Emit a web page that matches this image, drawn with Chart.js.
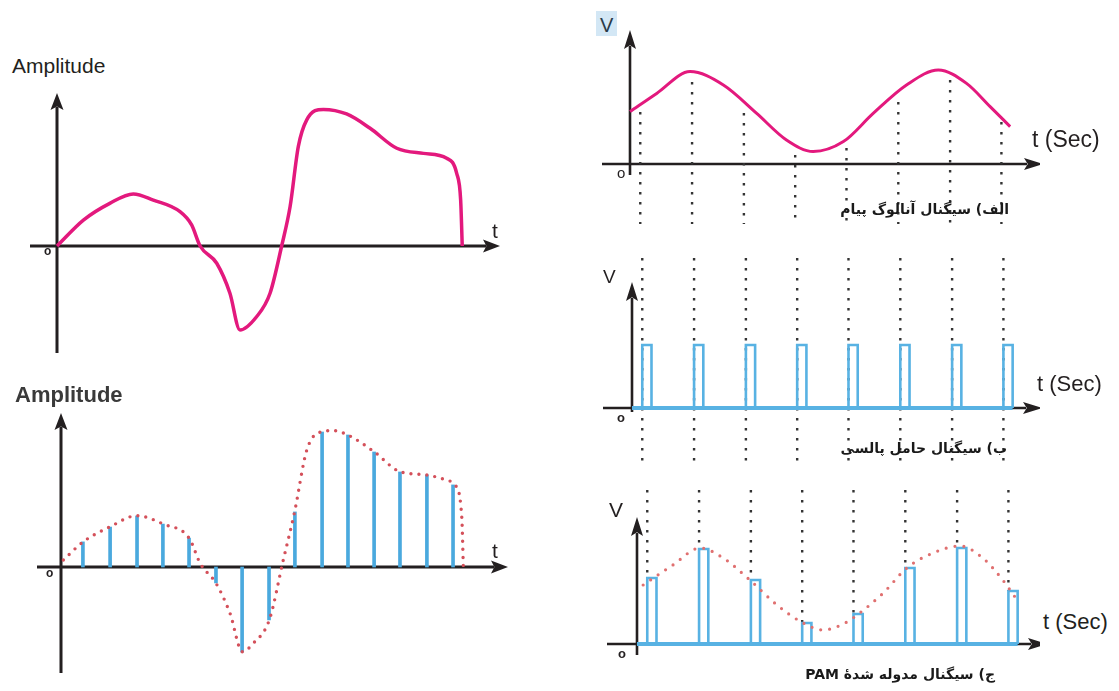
<!DOCTYPE html>
<html lang="fa">
<head>
  <meta charset="UTF-8">
  <title>نمونه‌برداری و مدولاسیون PAM</title>
  <script src="https://cdn.jsdelivr.net/npm/chart.js"></script>
  <style>
    body {
      margin: 0;
      width: 1119px;
      height: 691px;
      position: relative;
      overflow: hidden;
      background: #fff;
      color: #231f20;
      font-family: 'Liberation Sans', Arial, sans-serif;
    }
    canvas { position: absolute; }
    .lbl { position: absolute; line-height: 1; white-space: nowrap; }
    .cap {
      position: absolute;
      direction: rtl;
      white-space: nowrap;
      font-family: 'DejaVu Sans', sans-serif;
      font-weight: bold;
      font-size: 14px;
      line-height: 1;
      color: #1a1a1a;
    }
  </style>
</head>
<body>
  <canvas id="c1" width="520" height="290" style="left:0;top:80px"></canvas>
  <canvas id="c2" width="520" height="300" style="left:0;top:390px"></canvas>
  <canvas id="cA" width="450" height="235" style="left:590px;top:0"></canvas>
  <canvas id="cB" width="450" height="225" style="left:590px;top:245px"></canvas>
  <canvas id="cC" width="450" height="190" style="left:590px;top:480px"></canvas>

  <div class="lbl" style="left:12px;top:55px;font-size:21px">Amplitude</div>
  <div class="lbl" style="left:492px;top:220px;font-size:21px">t</div>
  <div class="lbl" style="left:44px;top:245px;font-size:12px;font-weight:bold">o</div>

  <div class="lbl" style="left:15px;top:384px;font-size:22px;font-weight:bold;color:#3a3a3a">Amplitude</div>
  <div class="lbl" style="left:492px;top:540px;font-size:21px">t</div>
  <div class="lbl" style="left:46px;top:567px;font-size:12px;font-weight:bold">o</div>

  <div style="position:absolute;left:596px;top:11px;width:21px;height:25px;background:#d3e7f5"></div>
  <div class="lbl" style="left:600px;top:15px;font-size:20px;color:#2a3a48">V</div>
  <div class="lbl" style="left:1032px;top:128px;font-size:23px">t (Sec)</div>
  <div class="lbl" style="left:617px;top:165px;font-size:15px">o</div>
  <div class="cap" style="right:110px;top:202px">الف) سیگنال آنالوگ پیام</div>

  <div class="lbl" style="left:603px;top:267px;font-size:19px">V</div>
  <div class="lbl" style="left:1037px;top:373px;font-size:22px">t (Sec)</div>
  <div class="lbl" style="left:617px;top:411px;font-size:13px;font-weight:bold">o</div>
  <div class="cap" style="right:112px;top:441px">ب) سیگنال حامل پالسی</div>

  <div class="lbl" style="left:609px;top:499px;font-size:21px">V</div>
  <div class="lbl" style="left:1043px;top:611px;font-size:22px">t (Sec)</div>
  <div class="lbl" style="left:618px;top:647px;font-size:13px;font-weight:bold">o</div>
  <div class="cap" style="right:124px;top:667px">ج) سیگنال مدوله شدهٔ PAM</div>

  <script>
    // --- left top: analog signal (t in sample periods, amplitude in arbitrary units)
    const curveT = [0, 1.0, 2.0, 2.89, 3.65, 4.66, 5.1, 5.42, 6.05, 6.55, 6.93, 7.56, 8.07, 8.51,
                    8.83, 9.14, 9.46, 10.09, 10.97, 11.86, 12.87, 13.88, 14.76, 15.14, 15.29, 15.35];
    const curveA = [0, 0.96, 1.58, 1.93, 1.70, 1.27, 0.78, 0, -0.64, -1.75, -3.11, -2.62, -1.75, 0,
                    1.46, 3.68, 4.67, 5.06, 4.89, 4.36, 3.62, 3.43, 3.25, 2.69, 1.70, 0];

    // --- left bottom: samples and their envelope
    const sampleT = [0.83, 1.86, 2.88, 3.86, 4.85, 5.87, 6.86, 7.88, 8.86, 9.89, 10.87, 11.86, 12.84, 13.86, 14.85];
    const sampleA = [0.93, 1.48, 1.89, 1.59, 1.07, -0.59, -3.15, -1.96, 2.04, 5.0, 4.89, 4.26, 3.52, 3.41, 3.04];
    const envT = [0.09, 0.85, 1.86, 2.87, 3.88, 4.86, 5.27, 5.87, 6.4, 6.87, 7.28, 7.89, 8.42, 8.85,
                  9.31, 9.87, 10.31, 10.86, 11.86, 12.84, 13.85, 14.61, 14.92, 15.18, 15.24];
    const envA = [0.26, 0.94, 1.49, 1.9, 1.59, 1.06, 0.14, -0.6, -1.71, -3.14, -2.83, -1.96, 0.26, 2.05,
                  4.33, 5.01, 5.05, 4.89, 4.27, 3.53, 3.41, 3.22, 3.04, 1.86, 0.01];

    // --- right: message (V), pulse carrier and PAM
    const msgT = [0, 0.52, 1.17, 1.82, 2.47, 3.05, 3.57, 4.16, 4.74, 5.39, 6.01, 6.56, 7.02, 7.41];
    const msgV = [2.62, 3.53, 4.62, 3.95, 2.53, 1.2, 0.62, 1.12, 2.53, 3.95, 4.7, 4.03, 2.87, 1.87];
    const pulseT = [0.2, 1.21, 2.22, 3.22, 4.22, 5.23, 6.24, 7.24];
    const pulseWidth = 0.18;
    const carrierV = [1, 1, 1, 1, 1, 1, 1, 1];
    const guideTopA = [2.6, 4.1, 2.55, 0.45, 0.8, 3.1, 4.2, 2.1];
    const pamV = [3.3, 4.75, 3.2, 1.05, 1.5, 3.8, 4.8, 2.65];
    const pamEnvT = [0.12, 0.7, 1.23, 1.68, 2.2, 2.73, 3.24, 3.63, 4.02, 4.29, 4.8, 5.26, 5.77, 6.3, 6.74, 7.13, 7.41];
    const pamEnvV = [2.95, 3.95, 4.8, 4.3, 3.2, 1.95, 1.05, 0.7, 1.0, 1.45, 2.55, 3.8, 4.55, 4.9, 4.3, 3.2, 2.2];

    const PINK = '#e3197d';
    const STEM = '#4aa9de';
    const PULSE = '#58b2e3';
    const DOTS = '#d4505a';
    const INK = '#231f20';
    const GUIDE = '#333';

    const zip = (xs, ys) => xs.map((x, i) => ({ x, y: ys[i] }));

    function guides(times, tops, bottoms) {
      const pts = [];
      times.forEach((t, i) => {
        pts.push({ x: t, y: Array.isArray(tops) ? tops[i] : tops });
        pts.push({ x: t, y: Array.isArray(bottoms) ? bottoms[i] : bottoms });
        pts.push({ x: t, y: null });
      });
      return pts;
    }

    function pulseTrain(times, heights, w) {
      const pts = [{ x: 0, y: 0 }];
      times.forEach((t, i) => {
        pts.push({ x: t, y: 0 }, { x: t, y: heights[i] }, { x: t + w, y: heights[i] }, { x: t + w, y: 0 });
      });
      return pts;
    }

    // axes with arrow heads through the origin of the scales
    const arrowAxes = {
      id: 'arrowAxes',
      beforeDatasetsDraw(chart, args, o) {
        const { ctx, scales: { x, y } } = chart;
        const x0 = x.getPixelForValue(0), y0 = y.getPixelForValue(0);
        ctx.save();
        ctx.strokeStyle = ctx.fillStyle = INK;
        ctx.lineWidth = o.width;
        ctx.beginPath();
        ctx.moveTo(x0 - o.left, y0);
        ctx.lineTo(x0 + o.right - o.head + 3, y0);
        ctx.moveTo(x0, y0 + o.down);
        ctx.lineTo(x0, y0 - o.up + o.head - 3);
        ctx.stroke();
        const hx = x0 + o.right, vy = y0 - o.up;
        ctx.beginPath();
        ctx.moveTo(hx, y0);
        ctx.lineTo(hx - o.head, y0 - o.half);
        ctx.lineTo(hx - o.head * 0.8, y0);
        ctx.lineTo(hx - o.head, y0 + o.half);
        ctx.closePath();
        ctx.moveTo(x0, vy);
        ctx.lineTo(x0 - o.half, vy + o.head);
        ctx.lineTo(x0, vy + o.head * 0.8);
        ctx.lineTo(x0 + o.half, vy + o.head);
        ctx.closePath();
        ctx.fill();
        ctx.restore();
      }
    };

    function panel(id, g, axes, datasets) {
      const cv = document.getElementById(id);
      const w = cv.width, h = cv.height;
      return new Chart(cv, {
        type: 'line',
        data: { datasets },
        options: {
          responsive: false,
          animation: false,
          events: [],
          layout: { padding: 0 },
          elements: { point: { radius: 0 }, line: { tension: 0 } },
          plugins: { legend: { display: false }, tooltip: { enabled: false }, arrowAxes: axes },
          scales: {
            x: { type: 'linear', display: false, offset: false, min: -g.ox / g.ux, max: (w - g.ox) / g.ux },
            y: { type: 'linear', display: false, min: -(h - g.oy) / g.uy, max: g.oy / g.uy }
          }
        },
        plugins: [arrowAxes]
      });
    }

    panel('c1', { ox: 57, oy: 166, ux: 26.4, uy: 27 },
      { left: 27, right: 443, up: 153, down: 107, width: 3, head: 17, half: 6.5 },
      [{ data: zip(curveT, curveA), borderColor: PINK, borderWidth: 3.5, cubicInterpolationMode: 'monotone' }]);

    panel('c2', { ox: 61, oy: 177, ux: 26.4, uy: 27 },
      { left: 24, right: 447, up: 154, down: 106, width: 3, head: 17, half: 6.5 },
      [
        { data: zip(envT, envA), borderColor: DOTS, borderWidth: 3.4, borderDash: [0, 8],
          borderCapStyle: 'round', cubicInterpolationMode: 'monotone' },
        { type: 'bar', data: zip(sampleT, sampleA), backgroundColor: STEM, barThickness: 3, grouped: false }
      ]);

    panel('cA', { ox: 40, oy: 164, ux: 51.3, uy: 20 },
      { left: 28, right: 413, up: 134, down: 11, width: 2.6, head: 19, half: 6 },
      [
        { data: zip(msgT, msgV), borderColor: PINK, borderWidth: 3, cubicInterpolationMode: 'monotone' },
        { data: guides(pulseT, guideTopA, -3.0), borderColor: GUIDE, borderWidth: 2.4, borderDash: [2.4, 7.6] }
      ]);

    panel('cB', { ox: 42, oy: 163, ux: 51.3, uy: 63 },
      { left: 29, right: 410, up: 126, down: 4, width: 2.6, head: 19, half: 6 },
      [
        { data: pulseTrain(pulseT, carrierV, pulseWidth), borderColor: PULSE, borderWidth: 2.6 },
        { data: [{ x: 0, y: 0 }, { x: pulseT[pulseT.length - 1] + pulseWidth, y: 0 }], borderColor: PULSE, borderWidth: 4 },
        { data: guides(pulseT, 2.38, -0.86), borderColor: GUIDE, borderWidth: 2.4, borderDash: [2.4, 7.6] }
      ]);

    panel('cC', { ox: 47, oy: 164, ux: 51.3, uy: 20 },
      { left: 30, right: 410, up: 127, down: 11, width: 2.6, head: 19, half: 6 },
      [
        { data: zip(pamEnvT, pamEnvV), borderColor: '#e07070', borderWidth: 3.2, borderDash: [0, 9],
          borderCapStyle: 'round', cubicInterpolationMode: 'monotone' },
        { data: pulseTrain(pulseT, pamV, pulseWidth), borderColor: PULSE, borderWidth: 2.6 },
        { data: [{ x: 0, y: 0 }, { x: pulseT[pulseT.length - 1] + pulseWidth, y: 0 }], borderColor: PULSE, borderWidth: 4 },
        { data: guides(pulseT, 7.7, pamV), borderColor: GUIDE, borderWidth: 2.4, borderDash: [2.4, 7.6] }
      ]);
  </script>
</body>
</html>
